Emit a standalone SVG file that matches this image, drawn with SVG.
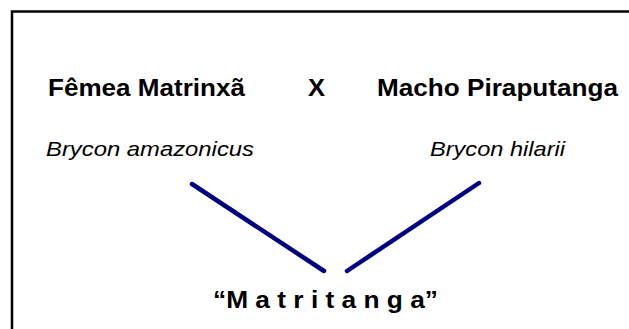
<svg xmlns="http://www.w3.org/2000/svg" width="629" height="329" viewBox="0 0 629 329">
<style>
.b{font-family:"Liberation Sans",Arial,sans-serif;font-weight:bold;font-size:23px;fill:#000}
.i{font-family:"Liberation Sans",Arial,sans-serif;font-style:italic;font-size:21px;fill:#000}
.c{stroke:#000080;stroke-width:4.5;stroke-linecap:round;fill:none}
</style>
<rect width="629" height="329" fill="#fff"/>
<path d="M12,329 V11.5 H629" fill="none" stroke="#000" stroke-width="2.5"/>
<g id="femea">
<text class="b" x="48" y="96" textLength="197" lengthAdjust="spacingAndGlyphs">Fêmea Matrinxã</text>
<text class="i" x="46" y="156" textLength="208" lengthAdjust="spacingAndGlyphs">Brycon amazonicus</text>
</g>
<g id="cross">
<text class="b" x="308" y="96" textLength="17" lengthAdjust="spacingAndGlyphs">X</text>
</g>
<g id="macho">
<text class="b" x="377" y="96" textLength="241" lengthAdjust="spacingAndGlyphs">Macho Piraputanga</text>
<text class="i" x="430" y="156" textLength="135" lengthAdjust="spacingAndGlyphs">Brycon hilarii</text>
</g>
<g id="hibrido">
<text class="b" x="213" y="308" textLength="225" lengthAdjust="spacingAndGlyphs">“M a t r i t a n g a”</text>
</g>
<g id="connectors">
<line class="c" x1="192" y1="184" x2="324" y2="271"/>
<line class="c" x1="479" y1="183" x2="347" y2="271"/>
</g>
</svg>
